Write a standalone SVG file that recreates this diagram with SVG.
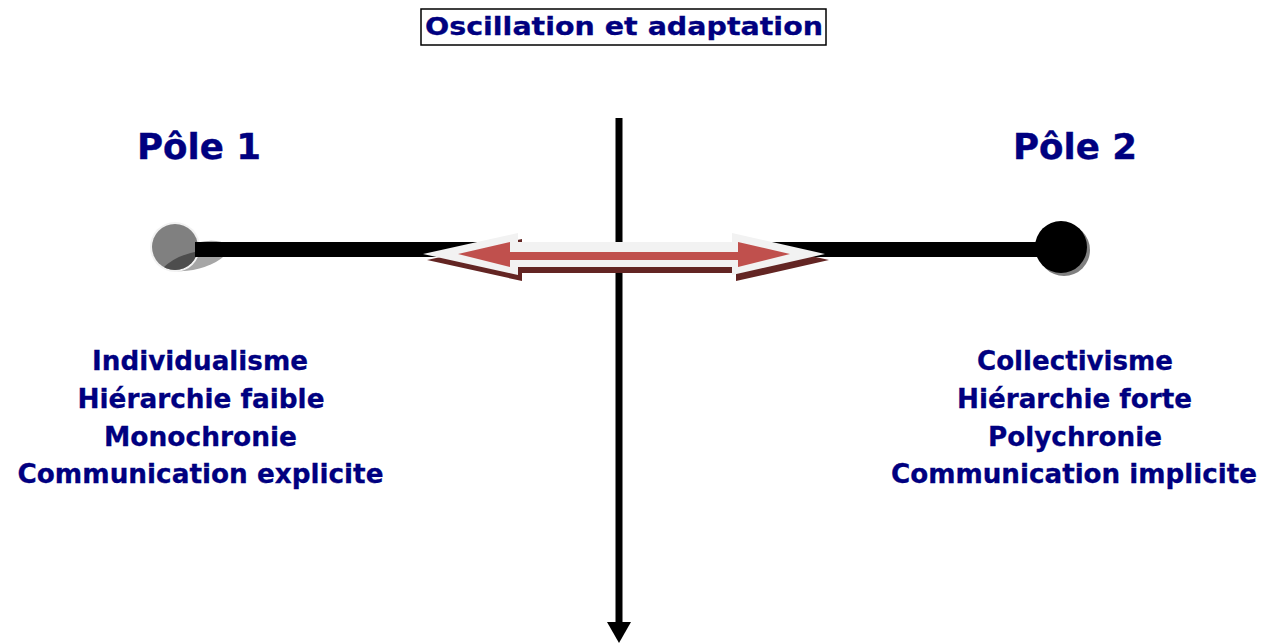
<svg xmlns="http://www.w3.org/2000/svg" width="1266" height="643" viewBox="0 0 1266 643">
<style>
text{font-family:"DejaVu Sans","Verdana",sans-serif;font-weight:bold;fill:#000080;text-anchor:middle;stroke:#000080;stroke-width:0.3}
.pole{font-size:35px;stroke-width:0.4}
.item{font-size:26px}
.title{font-size:25px}
</style>
<defs>
<clipPath id="c1"><circle cx="175" cy="247" r="23"/></clipPath>
</defs>
<rect width="1266" height="643" fill="#fff"/>
<g id="title">
<rect x="421" y="9" width="405" height="36" fill="#fff" stroke="#000" stroke-width="1.5"/>
<text class="title" x="624" y="35" textLength="398" lengthAdjust="spacingAndGlyphs">Oscillation et adaptation</text>
</g>
<g id="connectors">
<rect x="195" y="242" width="866" height="15" fill="#000"/>
<line x1="619" y1="118" x2="619" y2="625" stroke="#000" stroke-width="7"/>
<polygon points="607,622 631,622 619,643" fill="#000"/>
</g>
<g id="pole1-dot">
<ellipse cx="196" cy="256" rx="33" ry="13" fill="#a6a6a6" transform="rotate(-15 196 256)"/>
<circle cx="175" cy="247" r="25" fill="#f2f2f2"/>
<circle cx="175" cy="247" r="23" fill="#808080"/>
<path d="M158,276 L163,268 Q176,255 199,251 L202,280 Z" fill="#4d4d4d" clip-path="url(#c1)"/>
<rect x="195" y="242" width="40" height="15" fill="#000"/>
</g>
<g id="pole2-dot">
<circle cx="1064" cy="250" r="26" fill="#808080"/>
<circle cx="1061" cy="247" r="26" fill="#000"/>
</g>
<g id="double-arrow">
<polygon points="427,260 522,239 522,248 736,248 736,239 829,260 736,281 736,273 522,273 522,281" fill="#632523"/>
<polygon points="423,254 518,233 518,242 732,242 732,233 825,254 732,275 732,267 518,267 518,275" fill="#f2f2f2"/>
<polygon points="458,254 510,242 510,252 738,252 738,242 790,254 738,267 738,260 510,260 510,267" fill="#c0504d"/>
</g>
<g id="pole1">
<text class="pole" x="199" y="159" textLength="124" lengthAdjust="spacingAndGlyphs">Pôle 1</text>
<text class="item" x="200" y="370" textLength="216" lengthAdjust="spacingAndGlyphs">Individualisme</text>
<text class="item" x="201" y="408" textLength="247" lengthAdjust="spacingAndGlyphs">Hiérarchie faible</text>
<text class="item" x="200.5" y="446" textLength="193" lengthAdjust="spacingAndGlyphs">Monochronie</text>
<text class="item" x="200.5" y="483" textLength="366" lengthAdjust="spacingAndGlyphs">Communication explicite</text>
</g>
<g id="pole2">
<text class="pole" x="1075" y="159" textLength="124" lengthAdjust="spacingAndGlyphs">Pôle 2</text>
<text class="item" x="1075" y="370" textLength="196" lengthAdjust="spacingAndGlyphs">Collectivisme</text>
<text class="item" x="1074.5" y="408" textLength="235" lengthAdjust="spacingAndGlyphs">Hiérarchie forte</text>
<text class="item" x="1075" y="446" textLength="174" lengthAdjust="spacingAndGlyphs">Polychronie</text>
<text class="item" x="1074" y="483" textLength="366" lengthAdjust="spacingAndGlyphs">Communication implicite</text>
</g>
</svg>
